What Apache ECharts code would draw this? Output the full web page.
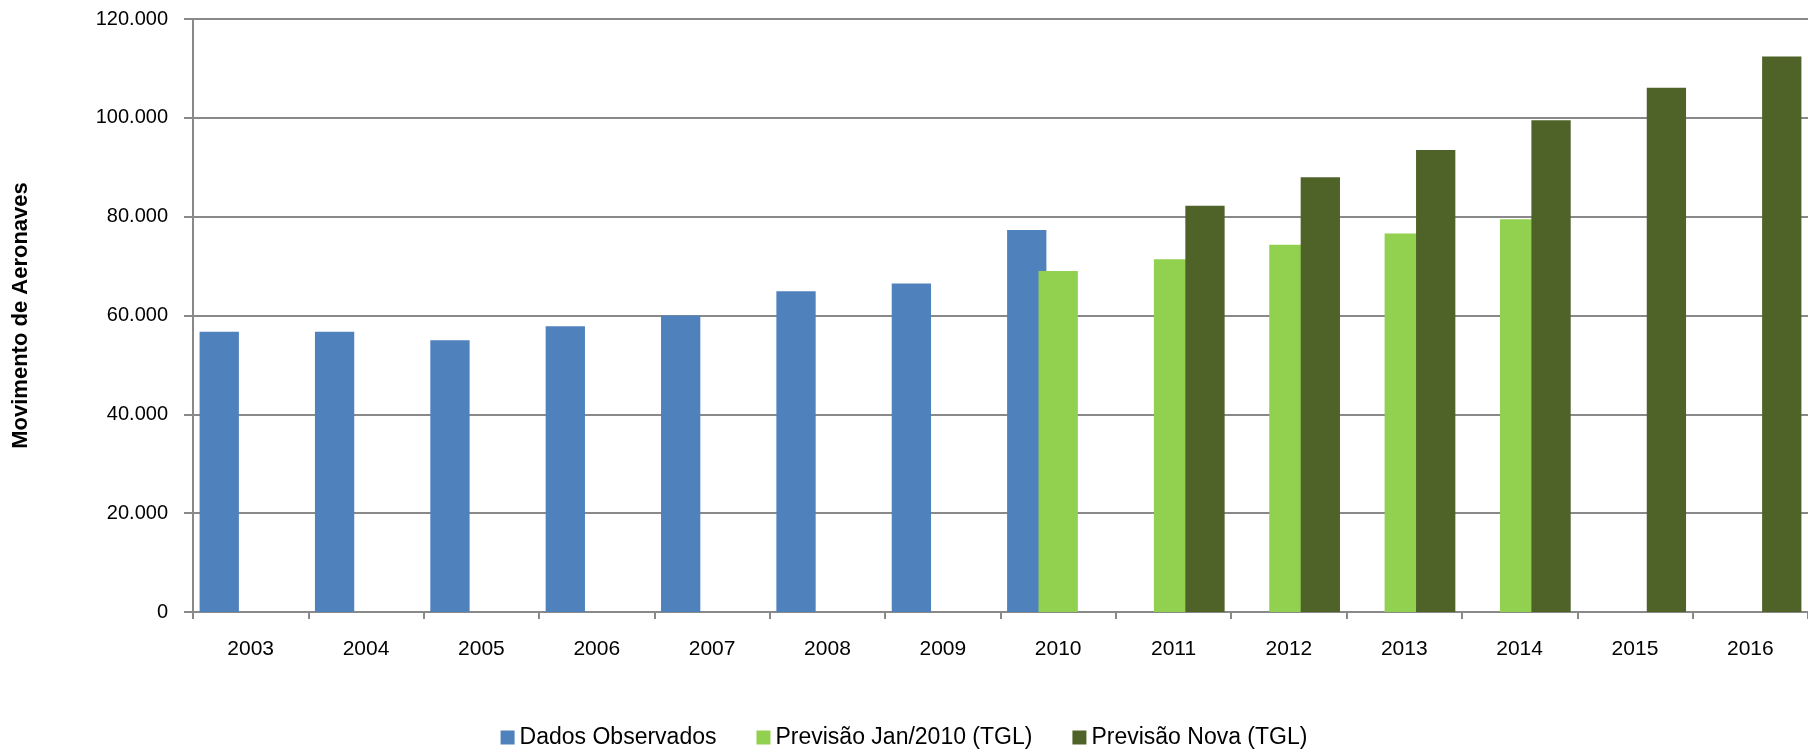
<!DOCTYPE html>
<html>
<head>
<meta charset="utf-8">
<script src="https://cdn.jsdelivr.net/npm/echarts@6/dist/echarts.min.js"></script>
<style>
html,body{margin:0;padding:0;background:#fff;}
#c{width:1808px;height:753px;}
</style>
</head>
<body>
<div id="c"></div>
<script>
const categories = ['2003','2004','2005','2006','2007','2008','2009','2010','2011','2012','2013','2014','2015','2016'];
const seriesNames = ['Dados Observados','Previsão Jan/2010 (TGL)','Previsão Nova (TGL)'];
const observados = [56700,56700,55000,57800,60000,64900,66500,77300,null,null,null,null,null,null];
const previsaoJan2010 = [null,null,null,null,null,null,null,69000,71400,74300,76600,79500,null,null];
const previsaoNova = [null,null,null,null,null,null,null,null,82200,88000,93500,99500,106100,112400];
const yAxisTitle = 'Movimento de Aeronaves';

const colors = ['#4F81BD','#92D050','#4F6228'];
const fontFamily = '"Liberation Sans", Arial, sans-serif';

function fmt(v){
  return String(v).replace(/\B(?=(\d{3})+(?!\d))/g,'.');
}

const chart = echarts.init(document.getElementById('c'), null, {renderer:'canvas'});
const mk = (name, data, color) => ({
  name, type:'bar', data,
  barWidth: 39.3,
  barGap: '-20%',
  itemStyle:{color},
  emphasis:{disabled:true},
  animation:false
});
chart.setOption({
  animation:false,
  textStyle:{fontFamily},
  grid:{left:193, top:19, width:1620, height:593, containLabel:false},
  legend:{
    data:seriesNames,
    left:'center',
    top:721,
    itemWidth:14, itemHeight:14, itemGap:40,
    icon:'rect',
    textStyle:{fontSize:23, color:'#000', fontFamily}
  },
  xAxis:{
    type:'category',
    data:categories,
    boundaryGap:true,
    axisLine:{lineStyle:{color:'#898989', width:2}},
    axisTick:{show:true, length:7, lineStyle:{color:'#898989', width:2}},
    axisLabel:{fontSize:21, color:'#000', margin:27, fontFamily, interval:0},
    splitLine:{show:false}
  },
  yAxis:{
    type:'value',
    min:0, max:120000, interval:20000,
    name:yAxisTitle,
    nameLocation:'middle',
    nameRotate:90,
    nameGap:161,
    nameTextStyle:{fontSize:22, fontWeight:'bold', color:'#000', fontFamily},
    axisLine:{show:true, lineStyle:{color:'#898989', width:2}},
    axisTick:{show:true, length:9, lineStyle:{color:'#898989', width:2}},
    axisLabel:{fontSize:20, color:'#000', margin:25, fontFamily, formatter:fmt},
    splitLine:{show:true, lineStyle:{color:'#898989', width:2}}
  },
  series:[
    mk(seriesNames[0], observados, colors[0]),
    mk(seriesNames[1], previsaoJan2010, colors[1]),
    mk(seriesNames[2], previsaoNova, colors[2])
  ]
});
</script>
</body>
</html>
